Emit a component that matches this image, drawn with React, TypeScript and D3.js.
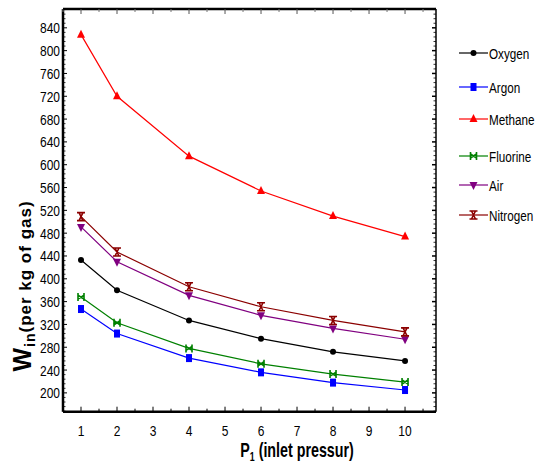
import React from "react";
import * as d3 from "d3";

const pressures = [1, 2, 4, 6, 8, 10];
const seriesNames = ["Oxygen", "Argon", "Methane", "Fluorine", "Air", "Nitrogen"];
const oxygen = [433, 380, 327, 295, 272, 256];
const argon = [347, 304, 261, 236, 218, 205];
const methane = [828, 720, 615, 554, 510, 474];
const fluorine = [368, 323, 278, 251, 233, 219];
const air = [491, 430, 371, 336, 313, 294];
const nitrogen = [509, 447, 386, 351, 327, 307];
const xTicks = [1, 2, 3, 4, 5, 6, 7, 8, 9, 10];
const yTicks = [200, 240, 280, 320, 360, 400, 440, 480, 520, 560, 600, 640, 680, 720, 760, 800, 840];

const colors = ["#000000", "#0000ff", "#ff0000", "#008000", "#800080", "#8b0000"];
const markers = ["circle", "square", "triUp", "bowH", "triDown", "bowV"];
const allValues = [oxygen, argon, methane, fluorine, air, nitrogen];

const W = 540, H = 467;
const L = 63, R = 436, T = 9, B = 411.7;
const FONT = "'Liberation Sans', Arial, sans-serif";

function NText({
  x, y, sx = 0.82, anchor = "start", size = 14, bold = false, children,
}: { x: number; y: number; sx?: number; anchor?: string; size?: number; bold?: boolean; children: React.ReactNode }) {
  return (
    <text
      transform={`translate(${x},${y}) scale(${sx},1)`}
      textAnchor={anchor}
      fontFamily={FONT}
      fontSize={size}
      fontWeight={bold ? "bold" : "normal"}
      fill="#000"
    >
      {children}
    </text>
  );
}

function Marker({ type, x, y, color }: { type: string; x: number; y: number; color: string }) {
  switch (type) {
    case "circle":
      return <circle cx={x} cy={y} r={3} fill={color} />;
    case "square":
      return <rect x={x - 3} y={y - 4} width={6} height={8} fill={color} />;
    case "triUp":
      return <path d={`M${x},${y - 5}L${x + 4},${y + 3}L${x - 4},${y + 3}Z`} fill={color} />;
    case "triDown":
      return <path d={`M${x - 4},${y - 3}L${x + 4},${y - 3}L${x},${y + 5}Z`} fill={color} />;
    case "bowH":
      return (
        <g stroke={color} strokeWidth={1.6} fill="none">
          <path d={`M${x - 3},${y - 4}L${x - 3},${y + 4}M${x + 3},${y - 4}L${x + 3},${y + 4}M${x - 3},${y - 2}L${x + 3},${y + 2}M${x - 3},${y + 2}L${x + 3},${y - 2}`} />
        </g>
      );
    case "bowV":
      return (
        <g stroke={color} strokeWidth={1.6} fill="none">
          <path d={`M${x - 4},${y - 4}L${x + 4},${y - 4}M${x - 4},${y + 4}L${x + 4},${y + 4}M${x - 2},${y - 4}L${x + 2},${y + 4}M${x + 2},${y - 4}L${x - 2},${y + 4}`} />
        </g>
      );
    default:
      return null;
  }
}

export default function App() {
  const x = d3.scaleLinear().domain([0.5, 10.86]).range([L, R]);
  const y = d3.scaleLinear().domain([167, 873]).range([B, T]);
  const line = d3
    .line<[number, number]>()
    .x((d) => x(d[0]))
    .y((d) => y(d[1]));

  const xMinor = d3.range(0.5, 10.9, 0.5).filter((v) => !Number.isInteger(v));
  const yMinor = d3.range(168, 873, 8).filter((v) => v % 40 !== 0);

  const legendY = [53, 87, 119, 156, 185, 215];

  return (
    <svg width={W} height={H} style={{ position: "absolute", left: 0, top: 0, background: "#fff" }}>
      <rect width={W} height={H} fill="#fff" />
      {allValues.map((vals, i) => (
        <g key={seriesNames[i]}>
          <path
            d={line(pressures.map((p, j) => [p, vals[j]] as [number, number])) || ""}
            fill="none"
            stroke={colors[i]}
            strokeWidth={1.2}
          />
          {pressures.map((p, j) => (
            <Marker key={j} type={markers[i]} x={x(p)} y={y(vals[j])} color={colors[i]} />
          ))}
        </g>
      ))}

      <line x1={L} x2={R} y1={T} y2={T} stroke="#000" strokeWidth={2.5} />
      <line x1={L} x2={R} y1={B} y2={B} stroke="#000" strokeWidth={2.5} />
      <line x1={L} x2={L} y1={T} y2={B} stroke="#000" strokeWidth={2.5} />
      <line x1={R} x2={R} y1={T} y2={B} stroke="#000" strokeWidth={1.5} />

      {xTicks.map((v) => (
        <g key={"xt" + v}>
          <line x1={x(v)} x2={x(v)} y1={B} y2={B - 5} stroke="#000" strokeWidth={1} />
          <line x1={x(v)} x2={x(v)} y1={T} y2={T + 5} stroke="#555" strokeWidth={1} />
          <NText x={x(v)} y={436} anchor="middle" size={15} sx={0.8}>
            {v}
          </NText>
        </g>
      ))}
      {xMinor.map((v) => (
        <g key={"xm" + v}>
          <line x1={x(v)} x2={x(v)} y1={B} y2={B - 3} stroke="#000" strokeWidth={1} />
          <line x1={x(v)} x2={x(v)} y1={T} y2={T + 3} stroke="#777" strokeWidth={1} />
        </g>
      ))}

      {yTicks.map((v) => (
        <g key={"yt" + v}>
          <line x1={L} x2={L + 4} y1={y(v)} y2={y(v)} stroke="#000" strokeWidth={1} />
          <line x1={R} x2={R - 4} y1={y(v)} y2={y(v)} stroke="#000" strokeWidth={1.5} />
          <NText x={60} y={y(v) + 5.5} anchor="end" size={15} sx={0.8}>
            {v}
          </NText>
        </g>
      ))}
      {yMinor.map((v) => (
        <g key={"ym" + v}>
          <line x1={L} x2={L + 2.5} y1={y(v)} y2={y(v)} stroke="#000" strokeWidth={0.8} />
          <line x1={R} x2={R - 2.5} y1={y(v)} y2={y(v)} stroke="#000" strokeWidth={0.8} />
        </g>
      ))}

      <NText x={297} y={457} anchor="middle" size={21} bold sx={0.68}>
        P<tspan fontSize={13} dy={4}>1</tspan>
        <tspan dy={-4}> (inlet pressur)</tspan>
      </NText>
      <text
        transform="translate(31,286) rotate(-90)"
        textAnchor="middle"
        fontFamily={FONT}
        fontWeight="bold"
        fontSize={17}
        letterSpacing={1}
        fill="#000"
      >
        <tspan fontSize={25}>W</tspan>
        <tspan fontSize={14} dy={4}>in</tspan>
        <tspan dy={-4}>(per kg of gas)</tspan>
      </text>

      {seriesNames.map((name, i) => (
        <g key={"lg" + name}>
          <line x1={459} x2={488} y1={legendY[i]} y2={legendY[i]} stroke={colors[i]} strokeWidth={1.2} />
          <Marker type={markers[i]} x={473.5} y={legendY[i]} color={colors[i]} />
          <NText x={489} y={legendY[i] + 5.5} size={15} sx={0.78}>
            {name}
          </NText>
        </g>
      ))}
    </svg>
  );
}
